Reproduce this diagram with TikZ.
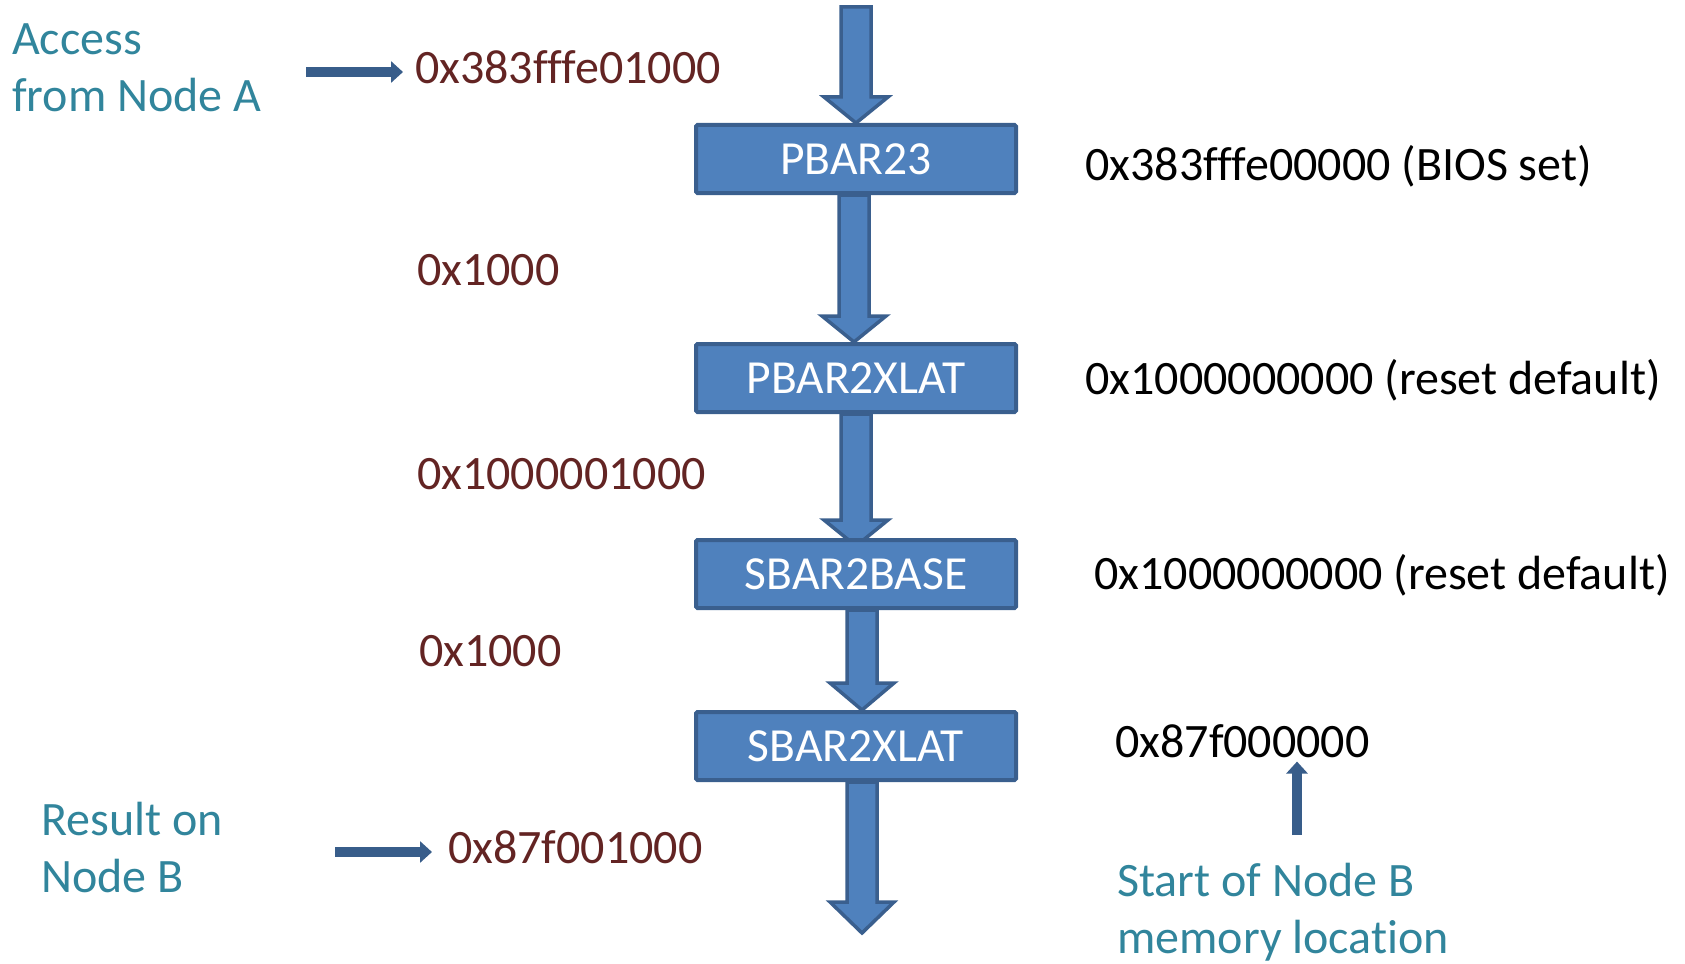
\documentclass[tikz,border=0pt]{standalone}
\usepackage{fontspec}
\setmainfont{Carlito}[Ligatures={NoCommon}]
\usetikzlibrary{calc,arrows.meta}
\definecolor{boxfill}{HTML}{4F81BD}
\definecolor{boxline}{HTML}{3A5F8E}
\definecolor{thinarrow}{HTML}{385D8A}
\definecolor{tealtxt}{HTML}{31859C}
\definecolor{redtxt}{HTML}{632423}
\pgfdeclarelayer{bg}
\pgfsetlayers{bg,main}
\tikzset{
  regbox/.style={draw=boxline, fill=boxfill, line width=4pt, rounded corners=1.5pt,
    minimum width=320pt, minimum height=68pt, inner sep=0pt, text=white,
    font=\fontsize{47.5}{56}\selectfont},
  barrow/.style={draw=boxline, fill=boxfill, line width=3.5pt, line join=miter},
  lbl/.style={anchor=base west, inner sep=0pt, font=\fontsize{48}{58}\selectfont},
  teallbl/.style={lbl, text=tealtxt},
  redlbl/.style={lbl, text=redtxt},
  blklbl/.style={lbl, text=black},
  thinarr/.style={draw=thinarrow, line width=10pt, -{Triangle[length=12pt,width=21pt]}},
}
\newcommand{\blockarr}[4]{%
  \draw[barrow] let \p1=#2, \p2=#3 in
    ({#1pt-15pt},\y1) -- ({#1pt+15pt},\y1) -- ({#1pt+15pt},{\y2+#4pt})
    -- ({#1pt+32pt},{\y2+#4pt}) -- (#1pt,\y2) -- ({#1pt-32pt},{\y2+#4pt})
    -- ({#1pt-15pt},{\y2+#4pt}) -- cycle;}
\begin{document}
\begin{tikzpicture}[x=1pt,y=-1pt]
\useasboundingbox (0,0) rectangle (1685,963);

% register boxes
\node[regbox] (b1) at (856,159) {PBAR23};
\node[regbox] (b2) at (856,378) {PBAR2XLAT};
\node[regbox] (b3) at (856,574) {SBAR2BASE};
\node[regbox] (b4) at (856,746) {SBAR2XLAT};

\coordinate (in) at (856,7);
\coordinate (out) at (862,933);

\begin{pgfonlayer}{bg}
\blockarr{856}{(in)}{(b1.north)}{26}
\blockarr{854}{(b1.south)}{(b2.north)}{26}
\blockarr{856}{(b2.south)}{([yshift=-8pt]b3.north)}{26}
\blockarr{862}{(b3.south)}{(b4.north)}{27}
\blockarr{862}{(b4.south)}{(out)}{31}
\end{pgfonlayer}

% left labels
\node[teallbl] (acc1) at (12,55) {Access};
\node[teallbl] (acc2) at (12,112) {from Node A};
\node[redlbl] (hexA) at (415,84) {0x383fffe01000};
\node[redlbl] (off1) at (417,285) {0x1000};
\node[redlbl] (mid) at (417,489) {0x1000001000};
\node[redlbl] (off2) at (419,666) {0x1000};
\node[teallbl] (res1) at (41,835) {Result on};
\node[teallbl] (res2) at (41,892) {Node B};
\node[redlbl] (hexB) at (448,863) {0x87f001000};

% right labels
\node[blklbl] (bios) at (1085,180) {0x383fffe00000 (BIOS set)};
\node[blklbl] (rst1) at (1085,394) {0x1000000000 (reset default)};
\node[blklbl] (rst2) at (1094,589) {0x1000000000 (reset default)};
\node[blklbl] (st87) at (1115,757) {0x87f000000};
\node[teallbl] (sb1) at (1117,896) {Start of Node B};
\node[teallbl] (sb2) at (1117,953) {memory location};

% thin arrows
\coordinate (aA) at (306,72);
\coordinate (aB) at (335,852);
\coordinate (aU) at (1297,835);
\draw[thinarr, shorten >=12pt] (aA) -- (aA -| hexA.west);
\draw[thinarr, shorten >=16pt] (aB) -- (aB -| hexB.west);
\draw[thinarr, shorten >=4pt] (aU) -- (aU |- st87.south);
\end{tikzpicture}
\end{document}
